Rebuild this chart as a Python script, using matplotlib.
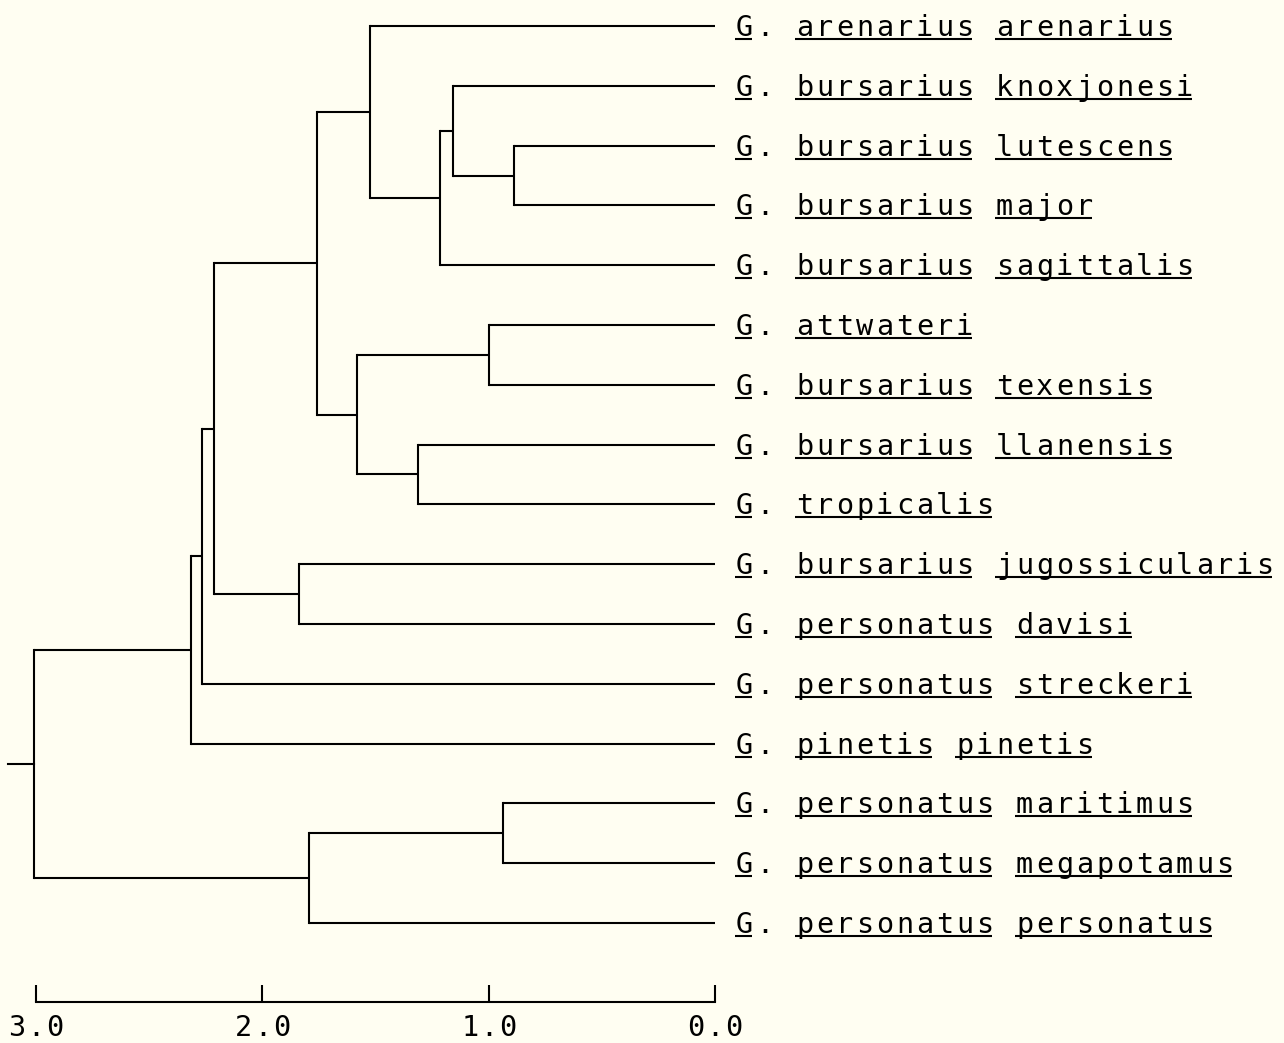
import matplotlib
matplotlib.use("Agg")
import matplotlib.pyplot as plt
from matplotlib.transforms import offset_copy, blended_transform_factory, IdentityTransform

# leaves, top to bottom
genus = ["G."] * 16
species = ["arenarius", "bursarius", "bursarius", "bursarius", "bursarius",
           "attwateri", "bursarius", "bursarius", "tropicalis", "bursarius",
           "personatus", "personatus", "pinetis", "personatus", "personatus",
           "personatus"]
subspecies = ["arenarius", "knoxjonesi", "lutescens", "major", "sagittalis",
              "", "texensis", "llanensis", "", "jugossicularis",
              "davisi", "streckeri", "pinetis", "maritimus", "megapotamus",
              "personatus"]

# merges: (child a, child b, distance); new cluster ids start at 16
merges = [
    (2, 3, 0.887),
    (1, 16, 1.156),
    (17, 4, 1.215),
    (0, 18, 1.525),
    (5, 6, 0.999),
    (7, 8, 1.314),
    (20, 21, 1.583),
    (19, 22, 1.759),
    (9, 10, 1.837),
    (23, 24, 2.213),
    (25, 11, 2.266),
    (26, 12, 2.316),
    (13, 14, 0.937),
    (28, 15, 1.793),
    (27, 29, 3.01),
]
root_stem = 3.124

scale_ticks = [3.0, 2.0, 1.0, 0.0]
scale_labels = ["3.0", "2.0", "1.0", "0.0"]

bg = "#fffef2"
ink = "black"
font = "DejaVu Sans Mono"
fsize = 20.5
lw = 1.5

fig = plt.figure(figsize=(12.84, 10.43), dpi=100, facecolor=bg)
ax = fig.add_axes([0, 0, 1, 1])
ax.set_facecolor(bg)
ax.set_xlim(3.1595, -2.5144)
ax.set_ylim(17.007, -0.435)

n = len(species)
ys = {i: float(i) for i in range(n)}
xs = {i: 0.0 for i in range(n)}

# leaf branches + internal nodes
for k, (a, b, h) in enumerate(merges):
    node = n + k
    for c in (a, b):
        ax.plot([h, xs[c]], [ys[c], ys[c]], color=ink, lw=lw, solid_capstyle="butt")
    ax.plot([h, h], [ys[a], ys[b]], color=ink, lw=lw, solid_capstyle="projecting")
    xs[node] = h
    ys[node] = (ys[a] + ys[b]) / 2

root = n + len(merges) - 1
ax.plot([root_stem, xs[root]], [ys[root], ys[root]], color=ink, lw=lw)

# labels: typewriter spacing, each word underlined except the dot
pitch = 20
x0 = ax.transData.transform((0, 0))[0]
under = blended_transform_factory(IdentityTransform(),
                                  offset_copy(ax.transData, fig=fig, y=-13, units="dots"))
for i in range(n):
    words = [genus[i], species[i], subspecies[i]]
    text = " ".join(w for w in words if w)
    for k, ch in enumerate(text):
        if ch == " ":
            continue
        tr = offset_copy(ax.transData, fig=fig, x=29.5 + pitch * k, y=-10, units="dots")
        ax.text(0, i, ch, transform=tr, ha="center", va="baseline",
                family=font, fontsize=fsize, color=ink)
    # underline words (the "G" without its dot)
    pos = 0
    for w in text.split(" "):
        core = w.rstrip(".")
        if core:
            ax.plot([x0 + 20 + pitch * pos, x0 + 37 + pitch * (pos + len(core) - 1)],
                    [i, i], transform=under, color=ink, lw=lw, solid_capstyle="butt")
        pos += len(w) + 1

# distance scale
for sp in ["top", "right", "left"]:
    ax.spines[sp].set_visible(False)
ax.spines["bottom"].set_position(("data", 16.313))
ax.spines["bottom"].set_bounds(0, 3)
ax.spines["bottom"].set_linewidth(lw)
ax.set_xticks(scale_ticks)
ax.set_xticklabels([])
ax.set_yticks([])
ax.tick_params(axis="x", direction="in", length=12, width=lw, color=ink)
for t, lab in zip(scale_ticks, scale_labels):
    for k, ch in enumerate(lab):
        tr = offset_copy(ax.transData, fig=fig, x=(k - 1) * 19, y=-34, units="dots")
        ax.text(t, 16.313, ch, transform=tr, ha="center", va="baseline",
                family=font, fontsize=fsize, color=ink)

fig.savefig("out.png", dpi=100, facecolor=bg)
